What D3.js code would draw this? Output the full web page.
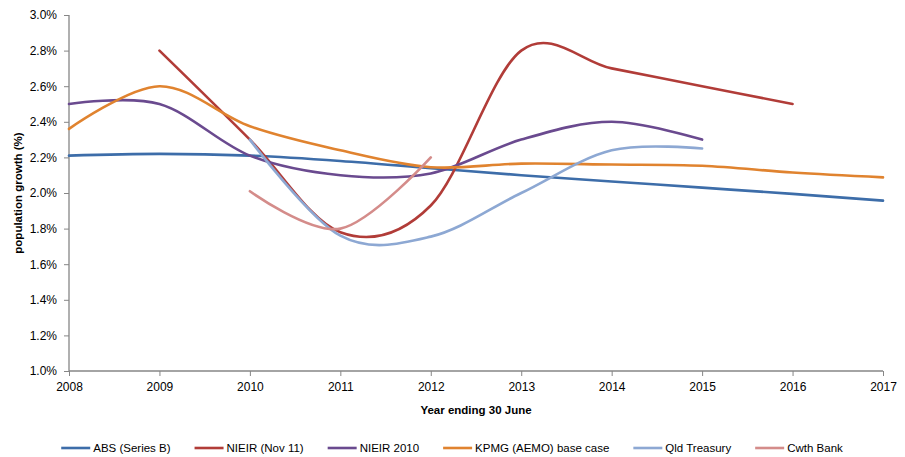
<!DOCTYPE html>
<html>
<head>
<meta charset="utf-8">
<script src="https://cdn.jsdelivr.net/npm/d3@7"></script>
<style>
  html, body { margin: 0; padding: 0; background: #fff; overflow: hidden; }
  svg { display: block; }
  text { font-family: "Liberation Sans", Arial, sans-serif; fill: #000; }
</style>
</head>
<body>
<svg width="905" height="457"></svg>
<script>
// chart data - population growth forecasts (%)
const years = [2008, 2009, 2010, 2011, 2012, 2013, 2014, 2015, 2016, 2017];
const seriesNames = ['ABS (Series B)', 'NIEIR (Nov 11)', 'NIEIR 2010', 'KPMG (AEMO) base case', 'Qld Treasury', 'Cwth Bank'];
const absSeriesB = [2.21, 2.22, 2.21, 2.18, 2.14, 2.10, 2.065, 2.03, 1.995, 1.957];
const nieirNov11 = [null, 2.80, 2.30, 1.78, 1.93, 2.80, 2.70, 2.60, 2.50, null];
const nieir2010 = [2.50, 2.50, 2.21, 2.10, 2.11, 2.30, 2.40, 2.30, null, null];
const kpmg = [2.36, 2.60, 2.375, 2.24, 2.145, 2.165, 2.16, 2.153, 2.115, 2.088];
const qldTreasury = [null, null, 2.30, 1.76, 1.755, 2.00, 2.24, 2.25, null, null];
const cwthBank = [null, null, 2.01, 1.80, 2.20, null, null, null, null, null];
const yTicks = [1.0, 1.2, 1.4, 1.6, 1.8, 2.0, 2.2, 2.4, 2.6, 2.8, 3.0];
const colors = ['#3D6DA9', '#B13C38', '#6A4A8F', '#E0832F', '#8DA8D3', '#D48C8A'];

const allSeries = [absSeriesB, nieirNov11, nieir2010, kpmg, qldTreasury, cwthBank];

const svg = d3.select('svg');
const margin = { top: 15, right: 22, bottom: 86, left: 69 };
const width = +svg.attr('width');
const height = +svg.attr('height');
const innerWidth = width - margin.left - margin.right;
const innerHeight = height - margin.top - margin.bottom;

const xScale = d3.scaleLinear().domain([2008, 2017]).range([0, innerWidth]);
const yScale = d3.scaleLinear().domain([1.0, 3.0]).range([innerHeight, 0]);

const g = svg.append('g').attr('transform', `translate(${margin.left},${margin.top})`);

const axisColor = '#868686';

// y axis
const yAxis = g.append('g')
  .call(d3.axisLeft(yScale).tickValues(yTicks).tickSize(5).tickPadding(7)
    .tickFormat(d => d.toFixed(1) + '%'));
// x axis
const xAxis = g.append('g')
  .attr('transform', `translate(0,${innerHeight})`)
  .call(d3.axisBottom(xScale).tickValues(years).tickSize(5).tickPadding(6)
    .tickFormat(d3.format('d')));

[yAxis, xAxis].forEach(ax => {
  ax.select('.domain').attr('stroke', axisColor).attr('stroke-width', 1.3);
  ax.selectAll('.tick line').attr('stroke', axisColor).attr('stroke-width', 1);
  ax.selectAll('.tick text').style('font-size', '12px').attr('fill', '#000');
});
// Excel style - domain without outer ticks
xAxis.select('.domain').attr('d', `M0,0H${innerWidth}`);
yAxis.select('.domain').attr('d', `M0,0V${innerHeight}`);

// axis titles
g.append('text')
  .attr('x', innerWidth / 2)
  .attr('y', innerHeight + 43)
  .attr('text-anchor', 'middle')
  .style('font-size', '11.5px')
  .style('font-weight', 'bold')
  .text('Year ending 30 June');

svg.append('text')
  .attr('transform', `translate(22,${margin.top + innerHeight / 2}) rotate(-90)`)
  .attr('text-anchor', 'middle')
  .style('font-size', '11.5px')
  .style('font-weight', 'bold')
  .text('population growth (%)');

// smoothed lines (Excel style)
const line = d3.line()
  .defined(d => d.v != null)
  .x(d => xScale(d.year))
  .y(d => yScale(d.v))
  .curve(d3.curveCatmullRom.alpha(0));

allSeries.forEach((vals, i) => {
  const pts = years.map((year, j) => ({ year, v: vals[j] })).filter(d => d.v != null);
  g.append('path')
    .datum(pts)
    .attr('fill', 'none')
    .attr('stroke', colors[i])
    .attr('stroke-width', 2.6)
    .attr('stroke-linecap', 'round')
    .attr('d', line);
});

// legend - flow layout, centred
const legend = svg.append('g').attr('transform', 'translate(0,448)');
const items = legend.selectAll('g').data(seriesNames).enter().append('g');
items.append('line')
  .attr('x1', 0).attr('x2', 29).attr('y1', 0).attr('y2', 0)
  .attr('stroke', (d, i) => colors[i])
  .attr('stroke-width', 2.6);
items.append('text')
  .attr('x', 32).attr('y', 4)
  .style('font-size', '11.5px')
  .text(d => d);

const gap = 24;
let cursor = 0;
const offsets = [];
items.each(function () {
  offsets.push(cursor);
  const w = 32 + d3.select(this).select('text').node().getComputedTextLength();
  cursor += w + gap;
});
const total = cursor - gap;
const startX = 452 - total / 2;
items.attr('transform', (d, i) => `translate(${startX + offsets[i]},0)`);
</script>
</body>
</html>
